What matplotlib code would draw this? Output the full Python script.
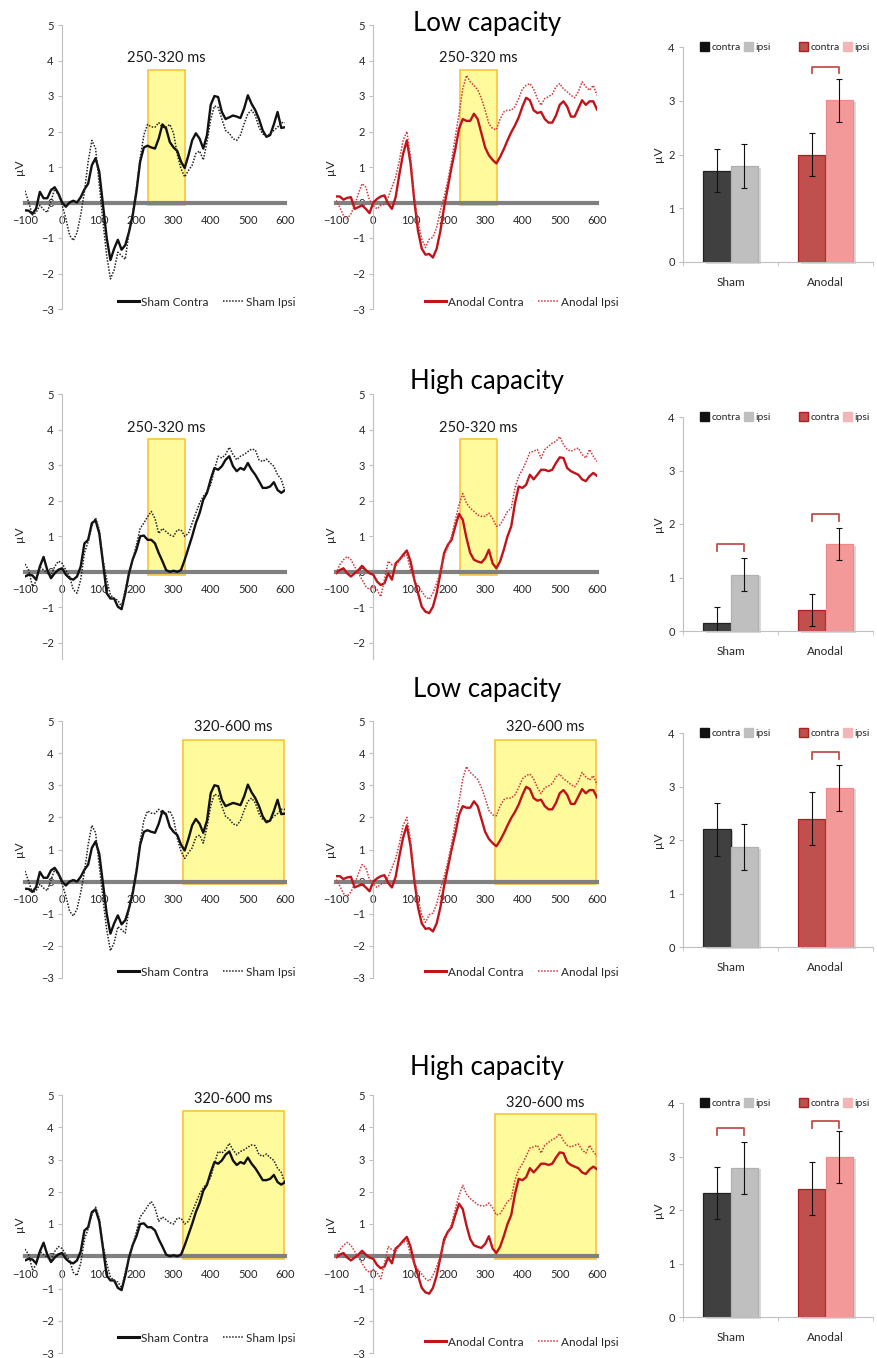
import matplotlib
matplotlib.use('Agg')
import matplotlib.pyplot as plt
from matplotlib.patches import Rectangle, Patch
from matplotlib.lines import Line2D
import numpy as np

plt.rcParams['font.family'] = ['Lato', 'DejaVu Sans']

W, H = 878, 1358

# ERP time axis (ms), one value every 10 ms
times = np.arange(-100, 601, 10)

# low capacity waveforms (µV)
sham_low_contra = [-0.22, -0.23, -0.32, -0.17, 0.30, 0.12, 0.12, 0.35, 0.43, 0.25,
                   0.00, -0.12, 0.00, 0.05, 0.00, 0.15, 0.37, 0.53, 1.05, 1.25,
                   0.86, -0.07, -1.00, -1.62, -1.30, -1.05, -1.33, -1.20, -0.83, -0.36,
                   0.30, 1.15, 1.55, 1.60, 1.55, 1.52, 1.80, 2.20, 2.08, 1.70,
                   1.55, 1.45, 1.15, 0.97, 1.33, 1.75, 1.95, 1.80, 1.52, 1.90,
                   2.75, 3.00, 2.97, 2.55, 2.35, 2.40, 2.45, 2.42, 2.38, 2.65,
                   3.02, 2.78, 2.60, 2.35, 2.03, 1.85, 1.90, 2.20, 2.55, 2.10,
                   2.12]
sham_low_ipsi = [0.33, 0.00, -0.35, -0.28, -0.08, -0.20, -0.28, 0.05, 0.38, 0.20,
                 -0.08, -0.45, -0.92, -1.07, -0.85, -0.35, 0.30, 1.15, 1.75, 1.52,
                 0.50, -0.55, -1.50, -2.15, -1.90, -1.40, -1.50, -1.60, -0.85, -0.28,
                 0.40, 1.25, 1.90, 2.20, 2.13, 2.12, 2.25, 2.12, 2.12, 2.20,
                 1.95, 1.35, 0.95, 0.72, 0.90, 1.05, 1.38, 1.45, 1.20, 1.70,
                 2.35, 2.72, 2.68, 2.35, 2.03, 1.95, 1.80, 1.75, 1.90, 2.22,
                 2.50, 2.60, 2.45, 2.12, 1.93, 1.88, 1.93, 2.03, 2.12, 2.25,
                 2.25]
anodal_low_contra = [0.17, 0.17, 0.08, 0.13, 0.15, -0.18, -0.13, -0.08, -0.18, -0.30,
                     0.00, 0.10, 0.17, 0.20, -0.04, -0.18, 0.15, 0.80, 1.37, 1.75,
                     1.10, 0.05, -0.80, -1.30, -1.47, -1.45, -1.55, -1.30, -0.80, -0.13,
                     0.43, 1.00, 1.50, 2.08, 2.35, 2.30, 2.30, 2.50, 2.35, 1.95,
                     1.55, 1.33, 1.20, 1.10, 1.28, 1.50, 1.75, 1.98, 2.17, 2.40,
                     2.70, 2.95, 2.88, 2.60, 2.52, 2.55, 2.35, 2.25, 2.25, 2.45,
                     2.75, 2.85, 2.70, 2.42, 2.42, 2.65, 2.88, 2.75, 2.85, 2.85,
                     2.62]
anodal_low_ipsi = [0.06, -0.13, -0.37, -0.46, -0.32, -0.08, 0.25, 0.53, 0.43, 0.06,
                   -0.08, -0.18, -0.08, -0.05, 0.15, 0.43, 0.72, 1.18, 1.75, 2.00,
                   1.28, 0.15, -0.55, -1.03, -1.27, -1.03, -0.98, -0.70, -0.22, 0.15,
                   0.62, 1.18, 1.85, 2.50, 3.20, 3.58, 3.40, 3.30, 3.18, 2.93,
                   2.60, 2.22, 2.08, 2.05, 2.35, 2.55, 2.60, 2.60, 2.70, 2.93,
                   3.20, 3.30, 3.35, 3.20, 2.93, 2.74, 2.93, 2.98, 3.05, 3.26,
                   3.35, 3.20, 3.12, 3.02, 2.95, 3.12, 3.40, 3.26, 3.16, 3.30,
                   3.02]

# high capacity waveforms (µV)
sham_high_contra = [-0.13, -0.08, -0.10, -0.22, 0.15, 0.42, 0.05, -0.18, -0.04, 0.06,
                    0.10, -0.08, -0.18, -0.22, -0.13, 0.15, 0.80, 0.90, 1.37, 1.45,
                    1.08, 0.25, -0.60, -0.75, -0.75, -0.98, -1.05, -0.60, -0.04, 0.35,
                    0.62, 1.00, 1.02, 0.90, 0.90, 0.80, 0.53, 0.30, 0.05, 0.00,
                    0.03, 0.00, 0.05, 0.34, 0.67, 1.00, 1.37, 1.65, 2.03, 2.22,
                    2.60, 2.92, 2.87, 2.97, 3.15, 3.25, 2.97, 2.83, 2.92, 2.87,
                    3.06, 2.87, 2.73, 2.55, 2.36, 2.36, 2.40, 2.52, 2.30, 2.22,
                    2.30]
sham_high_ipsi = [0.22, 0.05, -0.41, -0.27, 0.15, 0.05, -0.04, -0.10, 0.15, 0.30,
                  0.24, 0.05, -0.13, -0.50, -0.60, -0.22, 0.53, 0.85, 1.28, 1.52,
                  1.18, 0.34, -0.22, -0.65, -0.75, -0.80, -0.98, -0.50, -0.04, 0.34,
                  0.76, 1.22, 1.37, 1.55, 1.70, 1.50, 1.08, 1.22, 1.13, 1.04,
                  1.00, 1.18, 1.18, 1.00, 1.08, 1.37, 1.65, 1.93, 2.12, 2.26,
                  2.45, 2.87, 3.25, 3.20, 3.30, 3.50, 3.30, 3.15, 3.25, 3.30,
                  3.38, 3.45, 3.43, 3.15, 3.10, 3.17, 3.06, 2.97, 2.73, 2.60,
                  2.26]
anodal_high_contra = [-0.04, 0.05, 0.10, -0.04, -0.13, -0.04, 0.05, 0.17, 0.05, -0.04,
                      -0.08, -0.27, -0.37, -0.32, -0.04, -0.22, 0.24, 0.34, 0.48, 0.60,
                      0.29, -0.22, -0.60, -0.98, -1.12, -1.16, -0.98, -0.60, -0.04, 0.53,
                      0.76, 0.90, 1.28, 1.63, 1.46, 0.95, 0.53, 0.34, 0.29, 0.26,
                      0.38, 0.62, 0.24, 0.10, 0.29, 0.62, 1.00, 1.28, 1.93, 2.40,
                      2.36, 2.45, 2.73, 2.60, 2.73, 2.87, 2.87, 2.83, 2.87, 3.06,
                      3.22, 3.20, 2.92, 2.83, 2.78, 2.73, 2.60, 2.55, 2.69, 2.78,
                      2.70]
anodal_high_ipsi = [-0.04, 0.20, 0.34, 0.43, 0.34, 0.15, -0.04, -0.22, -0.41, -0.50,
                    -0.41, -0.50, -0.70, -0.22, 0.30, 0.20, 0.15, 0.34, 0.43, 0.48,
                    0.05, -0.22, -0.41, -0.55, -0.70, -0.77, -0.60, -0.32, 0.00, 0.43,
                    0.71, 1.00, 1.46, 1.89, 2.20, 1.93, 1.79, 1.70, 1.60, 1.56,
                    1.56, 1.65, 1.50, 1.28, 1.32, 1.50, 1.70, 1.79, 2.36, 2.69,
                    2.87, 3.10, 3.36, 3.39, 3.44, 3.20, 3.44, 3.53, 3.62, 3.67,
                    3.80, 3.58, 3.44, 3.39, 3.44, 3.48, 3.30, 3.20, 3.44, 3.25,
                    3.10]

# analysis windows as drawn (ms)
win_early = (232, 331)
win_late = (326, 596)
win_labels = ['250-320 ms', '320-600 ms']

# mean amplitude bars
groups = ['Sham', 'Anodal']
early_low_contra = [1.70, 2.00]
early_low_ipsi = [1.78, 3.01]
early_low_contra_err = [0.40, 0.40]
early_low_ipsi_err = [0.41, 0.40]
early_high_contra = [0.15, 0.40]
early_high_ipsi = [1.05, 1.62]
early_high_contra_err = [0.30, 0.30]
early_high_ipsi_err = [0.31, 0.30]
late_low_contra = [2.20, 2.40]
late_low_ipsi = [1.87, 2.98]
late_low_contra_err = [0.49, 0.49]
late_low_ipsi_err = [0.43, 0.43]
late_high_contra = [2.32, 2.40]
late_high_ipsi = [2.79, 2.99]
late_high_contra_err = [0.49, 0.49]
late_high_ipsi_err = [0.49, 0.49]
# significant contra/ipsi differences: (group index, bracket height)
early_low_sig = [(1, 3.63)]
early_high_sig = [(0, 1.62), (1, 2.18)]
late_low_sig = [(1, 3.64)]
late_high_sig = [(0, 3.53), (1, 3.66)]

fig = plt.figure(figsize=(W / 100, H / 100), dpi=100)


def px_axes(left, top, right, bottom):
    return fig.add_axes([left / W, 1 - bottom / H, (right - left) / W, (bottom - top) / H])


AXGRAY = '#bfbfbf'
TXT = '#262626'


def erp_panel(left, right, top, bottom, ymin, contra, ipsi, cond, color, dotcolor,
              win, box_top, win_label, label_y, legend_y, leg_left, ylab_y=0.5):
    ax = px_axes(left, top, right, bottom)
    ax.set_xlim(-100, 600)
    ax.set_ylim(ymin, 5)
    for s in ['top', 'right']:
        ax.spines[s].set_visible(False)
    ax.spines['left'].set_position(('data', 0))
    ax.spines['left'].set_color(AXGRAY)
    ax.spines['bottom'].set_position(('data', 0))
    ax.spines['bottom'].set_color('#808080')
    ax.spines['bottom'].set_linewidth(3)
    ax.set_xticks(range(-100, 601, 100))
    ax.set_yticks(range(int(np.ceil(ymin)), 6))
    ax.tick_params(axis='x', length=0, pad=9, labelsize=8, labelcolor=TXT)
    ax.tick_params(axis='y', length=3, width=0.8, color=AXGRAY, pad=3,
                   labelsize=8, labelcolor=TXT)
    ax.patch.set_alpha(0)
    ax.add_patch(Rectangle((win[0], -0.08), win[1] - win[0], box_top + 0.08,
                           facecolor='#fffb9c', edgecolor='#f7c43a', lw=1.2, zorder=1))
    ax.text((win[0] + win[1]) / 2, label_y, win_label, ha='center', va='center',
            fontsize=10.5, color='#1a1a1a')
    ax.plot(times, contra, color=color, lw=1.7, zorder=3)
    ax.plot(times, ipsi, color=dotcolor, lw=1.1, ls=(0, (1, 1)), zorder=3)
    ax.text(-0.021, ylab_y, 'µV', rotation=90, ha='center', va='center',
            fontsize=8.5, color=TXT, transform=ax.transAxes)
    if legend_y is not None:
        handles = [Line2D([], [], color=color, lw=2.2),
                   Line2D([], [], color=dotcolor, lw=1.1, ls=(0, (1, 1)))]
        fx = (leg_left - left) / (right - left)
        fy = (bottom - legend_y) / (bottom - top)
        ax.legend(handles, [cond + ' Contra', cond + ' Ipsi'], loc='center left',
                  bbox_to_anchor=(fx, fy), ncol=2, frameon=False, fontsize=8.5,
                  handlelength=1.8, handletextpad=0.15, columnspacing=1.2,
                  borderpad=0, borderaxespad=0, labelcolor=TXT)
    return ax


def bar_panel(top, bottom, contra, ipsi, contra_err, ipsi_err, sig):
    ax = px_axes(683, top, 873, bottom)
    x = np.arange(len(groups))
    w = 0.29
    ax.set_xlim(-0.5, 1.5)
    ax.set_ylim(0, 4)
    c_face = ['#404040', '#c0504d']
    c_edge = ['#222222', '#b01e22']
    i_face = ['#bfbfbf', '#f4999a']
    i_edge = ['#b0b0b0', '#f08a8a']
    # soft shadows
    ax.bar(x - w / 2 + 0.03, contra, w, bottom=-0.03, color='#d9d9d9', zorder=1, clip_on=False)
    ax.bar(x + w / 2 + 0.03, ipsi, w, bottom=-0.03, color='#d9d9d9', zorder=1, clip_on=False)
    ax.bar(x - w / 2, contra, w, color=c_face, edgecolor=c_edge, lw=0.9, zorder=2)
    ax.bar(x + w / 2, ipsi, w, color=i_face, edgecolor=i_edge, lw=0.9, zorder=2)
    ax.errorbar(x - w / 2, contra, yerr=contra_err, fmt='none', ecolor='#111111',
                elinewidth=0.8, capsize=2, capthick=0.8, zorder=4)
    ax.errorbar(x + w / 2, ipsi, yerr=ipsi_err, fmt='none', ecolor='#111111',
                elinewidth=0.8, capsize=2, capthick=0.8, zorder=4)
    for g, yb in sig:
        ax.plot([g - w / 2, g - w / 2, g + w / 2, g + w / 2],
                [yb - 0.12, yb, yb, yb - 0.12], color='#c0504d', lw=1.3, zorder=4)
    for s in ['top', 'right']:
        ax.spines[s].set_visible(False)
    for s in ['left', 'bottom']:
        ax.spines[s].set_color(AXGRAY)
    ax.set_xticks(x)
    ax.set_xticklabels(groups)
    ax.set_xticks([-0.5, 0.5, 1.5], minor=True)
    ax.tick_params(axis='x', which='major', length=0, pad=11, labelsize=8.5, labelcolor=TXT)
    ax.tick_params(axis='x', which='minor', length=3, color=AXGRAY)
    ax.set_yticks(range(0, 5))
    ax.tick_params(axis='y', length=3, color=AXGRAY, pad=3, labelsize=8, labelcolor=TXT)
    ax.text(-0.13, 0.5, 'µV', rotation=90, ha='center', va='center', fontsize=8.5,
            color=TXT, transform=ax.transAxes)
    leg_kw = dict(ncol=2, frameon=False, fontsize=7.5, handlelength=0.9, handleheight=0.9,
                  handletextpad=0.2, columnspacing=0.3, borderpad=0, borderaxespad=0,
                  loc='center left', labelcolor=TXT)
    l1 = ax.legend([Patch(facecolor='#111111', edgecolor='#111111'),
                    Patch(facecolor='#bfbfbf', edgecolor='#bfbfbf')], ['contra', 'ipsi'],
                   bbox_to_anchor=(0.09, 1.0), **leg_kw)
    ax.add_artist(l1)
    ax.legend([Patch(facecolor='#c0504d', edgecolor='#b01e22'),
               Patch(facecolor='#f2b6b6', edgecolor='#f2b6b6')], ['contra', 'ipsi'],
              bbox_to_anchor=(0.61, 1.0), **leg_kw)
    return ax


# rows: (pixel of +5 µV, pixel of bottom, bottom value)
erp_rows = [(25, 309, -3), (394, 659, -2.45), (721, 978, -3), (1095, 1353, -3)]
row_data = [
    (sham_low_contra, sham_low_ipsi, anodal_low_contra, anodal_low_ipsi),
    (sham_high_contra, sham_high_ipsi, anodal_high_contra, anodal_high_ipsi),
    (sham_low_contra, sham_low_ipsi, anodal_low_contra, anodal_low_ipsi),
    (sham_high_contra, sham_high_ipsi, anodal_high_contra, anodal_high_ipsi),
]
row_win = [win_early, win_early, win_late, win_late]
row_label = [win_labels[0], win_labels[0], win_labels[1], win_labels[1]]
box_top_left = [3.73, 3.74, 4.41, 4.50]
box_top_mid = [3.73, 3.74, 4.41, 4.40]
label_y_left = [4.07, 4.04, 4.81, 4.88]
label_y_mid = [4.07, 4.04, 4.81, 4.75]
legend_y_left = [302, None, 972, 1338]
legend_y_mid = [302, None, 972, 1342]
ylab_pos = [0.5, 0.47, 0.5, 0.5]

for i, (top, bottom, ymin) in enumerate(erp_rows):
    sc, si, ac, ai = row_data[i]
    erp_panel(25, 285, top, bottom, ymin, sc, si, 'Sham', '#111111', '#222222',
              row_win[i], box_top_left[i], row_label[i], label_y_left[i],
              legend_y_left[i], 118, ylab_pos[i])
    erp_panel(336, 597, top, bottom, ymin, ac, ai, 'Anodal', '#c0141a', '#d2363c',
              row_win[i], box_top_mid[i], row_label[i], label_y_mid[i],
              legend_y_mid[i], 425, ylab_pos[i])

bar_rows = [(47, 262), (417, 631), (733, 947), (1103, 1317)]
bar_panel(*bar_rows[0], early_low_contra, early_low_ipsi,
          early_low_contra_err, early_low_ipsi_err, early_low_sig)
bar_panel(*bar_rows[1], early_high_contra, early_high_ipsi,
          early_high_contra_err, early_high_ipsi_err, early_high_sig)
bar_panel(*bar_rows[2], late_low_contra, late_low_ipsi,
          late_low_contra_err, late_low_ipsi_err, late_low_sig)
bar_panel(*bar_rows[3], late_high_contra, late_high_ipsi,
          late_high_contra_err, late_high_ipsi_err, late_high_sig)

titles = [('Low capacity', 23), ('High capacity', 382), ('Low capacity', 690), ('High capacity', 1068)]
for txt, ypx in titles:
    fig.text(487 / W, 1 - ypx / H, txt, ha='center', va='center', fontsize=18.5, color='#000000')

fig.savefig('out.png', dpi=100)
